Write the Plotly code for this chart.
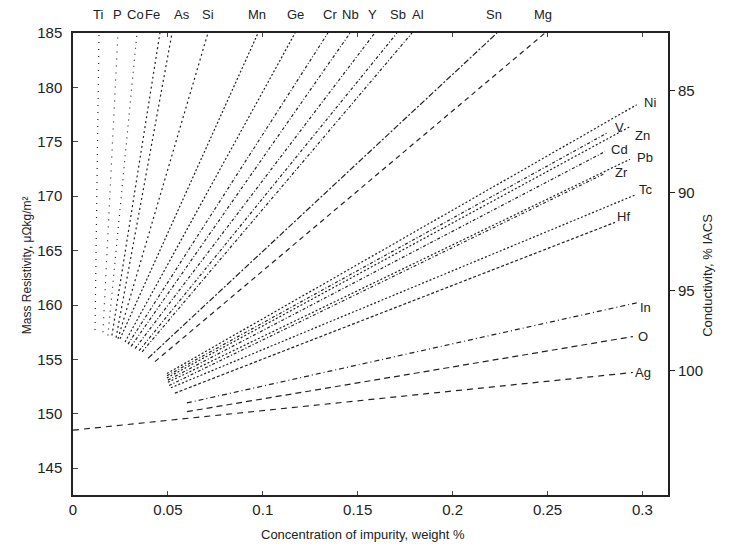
import plotly.graph_objects as go

# ---- data ----
# lines ending on the top axis
top_names   = ["Ti", "P", "Co", "Fe", "As", "Si", "Mn", "Ge", "Cr", "Nb", "Y", "Sb", "Al", "Sn", "Mg"]
top_c0      = [0.0116, 0.0158, 0.0184, 0.0205, 0.0227, 0.0237, 0.0248, 0.0274, 0.0290, 0.0306, 0.0327, 0.0348, 0.0364, 0.0395, 0.0432]
top_r0      = [157.7, 157.5, 157.2, 157.2, 157.0, 156.9, 156.9, 156.6, 156.4, 156.2, 156.0, 155.8, 155.7, 155.1, 154.8]
top_c1      = [0.0137, 0.0237, 0.0337, 0.0458, 0.0522, 0.0711, 0.0975, 0.1170, 0.1343, 0.1460, 0.1590, 0.1707, 0.1786, 0.2234, 0.2487]
top_r1      = [185.0] * 15
top_lab_c   = [0.0132, 0.0237, 0.0327, 0.0421, 0.0574, 0.0711, 0.0969, 0.1170, 0.1354, 0.1460, 0.1580, 0.1710, 0.1820, 0.2220, 0.2476]

# lines ending at the right side
right_names = ["Ni", "V", "Zn", "Cd", "Pb", "Zr", "Tc", "Hf", "In", "O", "Ag"]
right_c0    = [0.0495, 0.0495, 0.0495, 0.0500, 0.0500, 0.0506, 0.0516, 0.0537, 0.0600, 0.0600, 0.0]
right_r0    = [153.7, 153.5, 153.3, 153.1, 152.9, 152.6, 152.4, 151.9, 151.0, 150.2, 148.5]
right_c1    = [0.2970, 0.2813, 0.2935, 0.2803, 0.2935, 0.2803, 0.2960, 0.2856, 0.2970, 0.2950, 0.2950]
right_r1    = [178.4, 175.8, 176.4, 174.1, 173.4, 172.1, 170.1, 167.6, 160.2, 157.1, 153.8]
right_lab_c = [0.3040, 0.2880, 0.2998, 0.2880, 0.3014, 0.2890, 0.3019, 0.2900, 0.3019, 0.3003, 0.3003]
right_lab_r = [178.6, 176.3, 175.6, 174.3, 173.6, 172.2, 170.6, 168.1, 159.8, 157.1, 153.8]

x_ticks = [0, 0.05, 0.1, 0.15, 0.2, 0.25, 0.3]
x_tick_text = ["0", "0.05", "0.1", "0.15", "0.2", "0.25", "0.3"]
y_ticks = [145, 150, 155, 160, 165, 170, 175, 180, 185]
cond_ticks = ["85", "90", "95", "100"]
cond_tick_pos = [179.7, 170.3, 161.3, 154.0]

top_dash = ["1px,6px", "1px,6px", "1px,5px", "2px,3px", "2px,3px", "2px,3px",
            "2px,2px", "2px,2px", "3px,2px,1px,2px", "3px,2px,1px,2px", "3px,2px,1px,2px",
            "3px,2px,1px,2px", "3px,2px,1px,2px", "6px,2px,2px,2px", "5px,4px"]
right_dash = ["2px,2px", "3px,2px,1px,2px", "2px,2px", "3px,2px,1px,2px", "2px,2px",
              "3px,2px,1px,2px", "2px,2px", "3px,2px", "5px,3px,1px,3px", "6px,4px", "6px,5px"]

LINE = "#222222"
FONT = "Liberation Sans, Arial, sans-serif"

fig = go.Figure()
for i, n in enumerate(top_names):
    fig.add_trace(go.Scatter(x=[top_c0[i], top_c1[i]], y=[top_r0[i], top_r1[i]], mode="lines",
                             line=dict(color=LINE, width=1.2, dash=top_dash[i]), name=n,
                             showlegend=False, hoverinfo="name"))
for i, n in enumerate(right_names):
    fig.add_trace(go.Scatter(x=[right_c0[i], right_c1[i]], y=[right_r0[i], right_r1[i]], mode="lines",
                             line=dict(color=LINE, width=1.2, dash=right_dash[i]), name=n,
                             showlegend=False, hoverinfo="name"))
# invisible trace to carry the conductivity axis
fig.add_trace(go.Scatter(x=[0.1], y=[160], yaxis="y2", mode="markers",
                         marker=dict(opacity=0), showlegend=False, hoverinfo="skip"))

for i, n in enumerate(top_names):
    fig.add_annotation(x=top_lab_c[i], y=1.039, xref="x", yref="paper", text=n, showarrow=False,
                       yanchor="middle", font=dict(size=13, color="#222", family=FONT))
for i, n in enumerate(right_names):
    fig.add_annotation(x=right_lab_c[i], y=right_lab_r[i], xref="x", yref="y", text=n, showarrow=False,
                       font=dict(size=13, color="#222", family=FONT))

fig.add_annotation(x=-0.092, y=0.498, xref="paper", yref="paper", text="Mass Resistivity, μΩkg/m²",
                   textangle=-90, showarrow=False, font=dict(size=12, color="#222", family=FONT))
fig.add_annotation(x=1.081, y=0.476, xref="paper", yref="paper", text="Conductivity, % IACS",
                   textangle=-90, showarrow=False, font=dict(size=13, color="#222", family=FONT))
fig.add_annotation(x=0.488, y=-0.085, xref="paper", yref="paper", text="Concentration of impurity, weight %",
                   showarrow=False, yanchor="middle", font=dict(size=13, color="#222", family=FONT))

fig.update_layout(
    width=747, height=546,
    margin=dict(l=73, r=79, t=33, b=51),
    paper_bgcolor="white", plot_bgcolor="white",
    font=dict(family=FONT, color="#222", size=14),
    xaxis=dict(range=[0, 0.3135], tickvals=x_ticks, ticktext=x_tick_text, ticks="inside", ticklen=4,
               showline=True, linecolor="#222", linewidth=1.5, mirror="ticks", showgrid=False,
               zeroline=False, tickfont=dict(size=15)),
    yaxis=dict(range=[142.54, 185], tickvals=y_ticks, ticks="inside", ticklen=5,
               showline=True, linecolor="#222", linewidth=1.5, mirror=True, showgrid=False,
               zeroline=False, tickfont=dict(size=15), ticklabelstandoff=6),
    yaxis2=dict(range=[142.54, 185], overlaying="y", side="right", tickvals=cond_tick_pos,
                ticktext=cond_ticks, ticks="outside", ticklen=6, tickcolor="#222",
                showline=False, showgrid=False, zeroline=False, tickfont=dict(size=15)),
)

fig.write_html("out.html")
